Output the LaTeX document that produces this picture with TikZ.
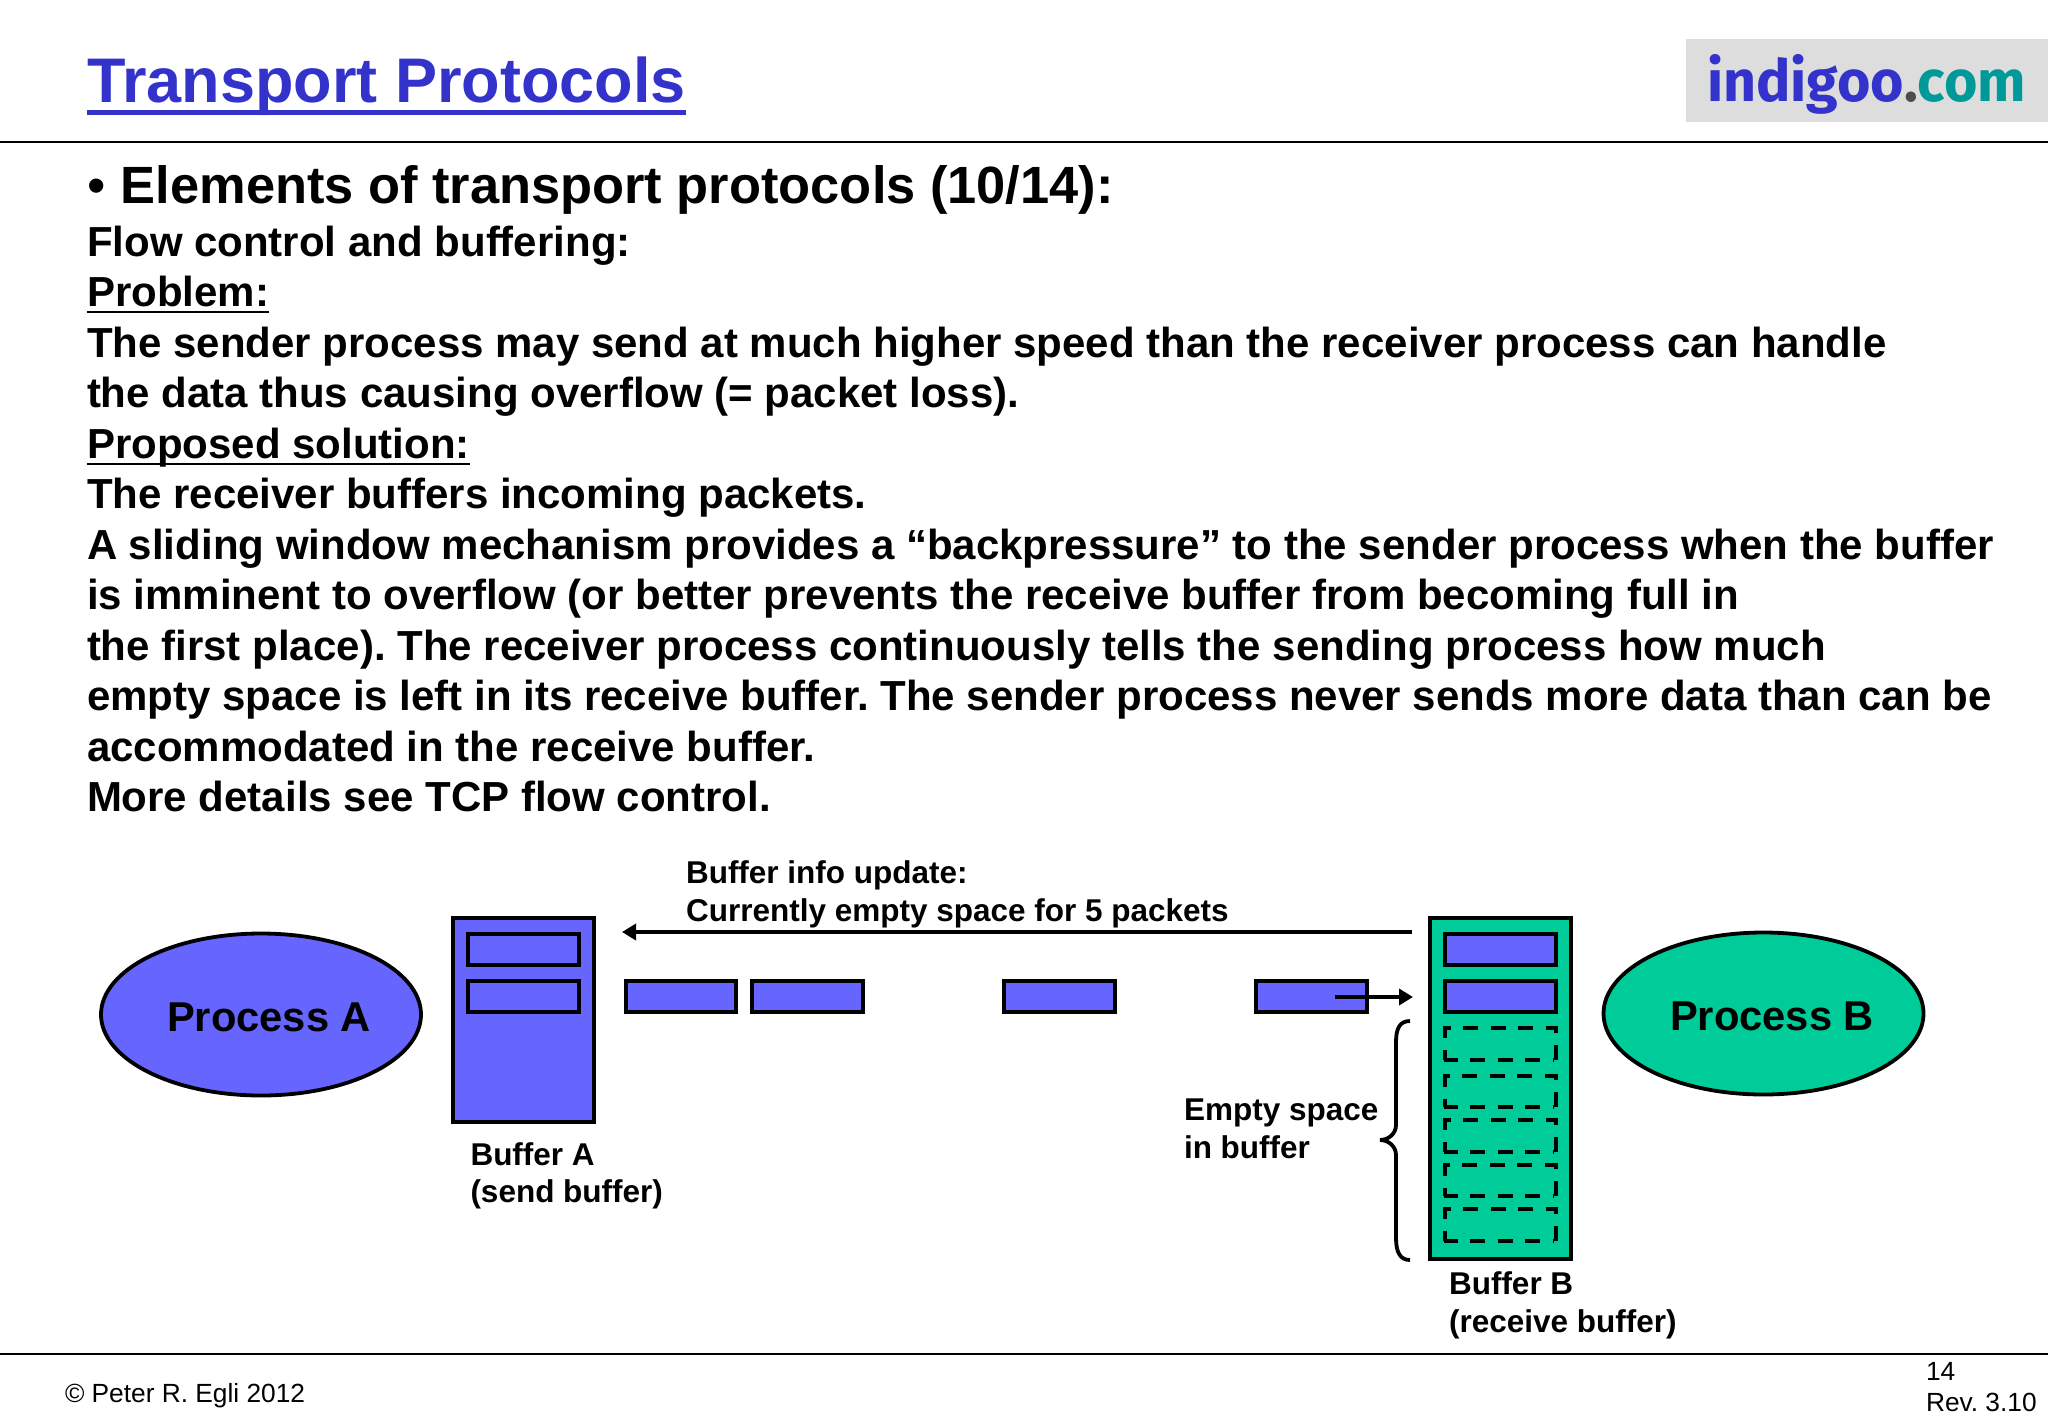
\documentclass[tikz,border=0pt]{standalone}
\usepackage{fontspec}
\usepackage{graphicx}
\setmainfont{Liberation Sans}[Ligatures={TeX,NoCommon}]
\newfontfamily\logofont{Fira Sans}
\usetikzlibrary{arrows.meta}
\frenchspacing
\definecolor{pblue}{HTML}{6666FF}
\definecolor{pgreen}{HTML}{00CC99}
\definecolor{tblue}{HTML}{3333CC}
\definecolor{lgray}{HTML}{DDDDDD}
\definecolor{lteal}{HTML}{009999}
\definecolor{ldot}{HTML}{4D4D4D}
\tikzset{
 txt/.style={anchor=base west,inner sep=0pt,outer sep=0pt,text=black},
 body/.style={txt,font=\fontsize{21pt}{24pt}\selectfont\bfseries},
 head/.style={txt,font=\fontsize{26.2pt}{30pt}\selectfont\bfseries},
 lab/.style={txt,font=\fontsize{15.75pt}{18pt}\selectfont\bfseries},
 proc/.style={txt,font=\fontsize{20.85pt}{24pt}\selectfont\bfseries},
 foot/.style={txt,font=\fontsize{13.15pt}{16pt}\selectfont},
 box/.style={draw=black,line width=1.9pt,line join=miter},
 dbox/.style={draw=black,line width=1.9pt,dash pattern=on 7.5pt off 6.25pt},
 dboxb/.style={draw=black,line width=1.9pt,dash pattern=on 7.5pt off 6.25pt,dash phase=0.75pt},
 conn/.style={draw=black,line width=1.75pt,-{Triangle[length=7pt,width=8pt]}},
 rule/.style={draw=black,line width=0.9pt},
 uline/.style={draw=black,line width=1.1pt},
}
\newcommand{\dashcell}[2]{%
 \draw[dbox] (1556,#2) -- (1556,#1) -- (1445,#1) -- (1445,#2);
 \draw[dboxb] (1444,#2) -- (1553,#2);
}
\begin{document}
\begin{tikzpicture}[x=0.5pt,y=-0.5pt]
\useasboundingbox (0,0) rectangle (2048,1418);
\fill[white] (0,0) rectangle (2048,1418);
% header
\node[txt,font=\fontsize{31.5pt}{36pt}\selectfont\bfseries,text=tblue] (title) at (87,103) {Transport Protocols};
\draw[draw=tblue,line width=2.5pt] ([yshift=-5pt]title.base west) -- ([yshift=-5pt]title.base east);
\fill[lgray] (1686,39) rectangle (2048,122);
\node[txt,font=\logofont\fontsize{29pt}{32pt}\selectfont\bfseries] (logo) at (1707,101) {\resizebox{159.5pt}{\height}{\textcolor{tblue}{indigoo}\textcolor{ldot}{.}\textcolor{lteal}{com}}};
\coordinate (hl) at (0,142); \coordinate (hr) at (2048,142);
\draw[rule] (hl) -- (hr);
% text
\node[head] (h1) at (87,203) {{\mdseries •}\hspace{0.5pt} Elements of transport protocols (10/14):};
\node[body] (l1) at (87,256.5) {Flow control and buffering:};
\node[body] (l2) at (87,306) {Problem:};
\draw[uline] ([yshift=-3pt]l2.base west) -- ([yshift=-3pt]l2.base east);
\node[body] (l3) at (87,357) {The sender process may send at much higher speed than the receiver process can handle};
\node[body] (l4) at (87,407) {the data thus causing overflow (= packet loss).};
\node[body] (l5) at (87,458) {Proposed solution:};
\draw[uline] ([yshift=-3pt]l5.base west) -- ([yshift=-3pt]l5.base east);
\node[body] (l6) at (87,508) {The receiver buffers incoming packets.};
\node[body] (l7) at (87,559) {A sliding window mechanism provides a “backpressure” to the sender process when the buffer};
\node[body] (l8) at (87,609) {is imminent to overflow (or better prevents the receive buffer from becoming full in};
\node[body] (l9) at (87,660) {the first place). The receiver process continuously tells the sending process how much};
\node[body] (l10) at (87,710) {empty space is left in its receive buffer. The sender process never sends more data than can be};
\node[body] (l11) at (87,761) {accommodated in the receive buffer.};
\node[body] (l12) at (87,811) {More details see TCP flow control.};
% process ellipses
\draw[box,fill=pblue] (261,1014.5) ellipse [x radius=160,y radius=81];
\draw[box,fill=pgreen] (1763.5,1013.5) ellipse [x radius=160,y radius=81];
\node[proc] (pa) at (167,1031) {Process A};
\node[proc] (pb) at (1670,1030) {Process B};
% buffer A
\path[box,fill=pblue] (453,918) rectangle (594,1122);
\path[box,fill=pblue] (468,934) rectangle (579,965);
\path[box,fill=pblue] (468,981) rectangle (579,1012);
% buffer B
\path[box,fill=pgreen] (1430,918) rectangle (1571,1259);
\path[box,fill=pblue] (1445,934) rectangle (1556,965);
\path[box,fill=pblue] (1445,981) rectangle (1556,1012);
\dashcell{1028}{1060}
\dashcell{1076}{1107}
\dashcell{1120}{1152}
\dashcell{1165}{1196}
\dashcell{1209}{1241}
% packets
\path[box,fill=pblue] (626,981) rectangle (736,1012);
\path[box,fill=pblue] (752,981) rectangle (863,1012);
\path[box,fill=pblue] (1004,981) rectangle (1115,1012);
\path[box,fill=pblue] (1256,981) rectangle (1367,1012);
% arrows
\coordinate (a1s) at (1412,932); \coordinate (a1e) at (622,932);
\draw[conn] (a1s) -- (a1e);
\coordinate (a2s) at (1335,997); \coordinate (a2e) at (1413,997);
\draw[conn] (a2s) -- (a2e);
% brace
\coordinate (bt) at (1410,1021); \coordinate (bb) at (1410,1260); \coordinate (btip) at (1380,1140);
\draw[draw=black,line width=1.9pt] (bt) .. controls (1400,1021) and (1396,1028) .. (1396,1042)
  -- (1396,1125) .. controls (1396,1134) and (1388,1140) .. (btip)
  .. controls (1388,1140) and (1396,1146) .. (1396,1155)
  -- (1396,1238) .. controls (1396,1252) and (1400,1260) .. (bb);
% labels
\node[lab] (u1) at (686,883) {Buffer info update:};
\node[lab] (u2) at (686,921) {Currently empty space for 5 packets};
\node[lab] (ba1) at (470.5,1165.5) {Buffer A};
\node[lab] (ba2) at (470.5,1202.5) {(send buffer)};
\node[lab] (bb1) at (1449,1294) {Buffer B};
\node[lab] (bb2) at (1449,1332) {(receive buffer)};
\node[lab] (e1) at (1184,1120.5) {Empty space};
\node[lab] (e2) at (1184,1158) {in buffer};
% footer
\coordinate (fl) at (0,1354); \coordinate (fr) at (2048,1354);
\draw[rule] (fl) -- (fr);
\node[foot] (f1) at (65,1402) {© Peter R. Egli 2012};
\node[foot] (f2) at (1926,1380) {14};
\node[foot] (f3) at (1926,1411) {Rev. 3.10};
\end{tikzpicture}
\end{document}
